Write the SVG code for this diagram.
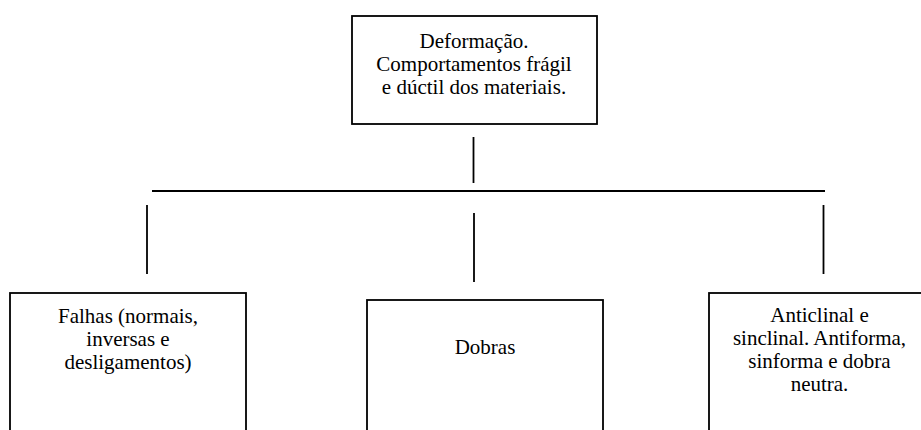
<svg xmlns="http://www.w3.org/2000/svg" width="921" height="430" viewBox="0 0 921 430">
<style>
.box{fill:#fff;stroke:#000;stroke-width:1.8}
.ln{stroke:#000;stroke-width:1.8;fill:none}
.t{font-family:'Liberation Serif','Times New Roman','DejaVu Serif',serif;font-size:21px;fill:#000;text-anchor:middle}
</style>
<rect width="921" height="430" fill="#fff"/>
<g id="connectors">
<line class="ln" x1="473.5" y1="137" x2="473.5" y2="183"/>
<line class="ln" x1="152" y1="191" x2="825" y2="191"/>
<line class="ln" x1="147" y1="205" x2="147" y2="274"/>
<line class="ln" x1="474" y1="213" x2="474" y2="282"/>
<line class="ln" x1="823.5" y1="205" x2="823.5" y2="274"/>
</g>
<g id="node-deformacao">
<rect class="box" x="352" y="16" width="245" height="108"/>
<text class="t" font-family="Liberation Serif, serif" x="474" y="48">Deformação.</text>
<text class="t" font-family="Liberation Serif, serif" x="474" y="71">Comportamentos frágil</text>
<text class="t" font-family="Liberation Serif, serif" x="474" y="94">e dúctil dos materiais.</text>
</g>
<g id="node-falhas">
<rect class="box" x="10" y="293" width="236" height="160"/>
<text class="t" x="128" y="323">Falhas (normais,</text>
<text class="t" x="128" y="346">inversas e</text>
<text class="t" x="128" y="369">desligamentos)</text>
</g>
<g id="node-dobras">
<rect class="box" x="367" y="300" width="236" height="160"/>
<text class="t" x="485" y="354">Dobras</text>
</g>
<g id="node-anticlinal">
<rect class="box" x="709" y="293" width="230" height="160"/>
<text class="t" x="819.5" y="322">Anticlinal e</text>
<text class="t" x="819.5" y="345">sinclinal. Antiforma,</text>
<text class="t" x="819.5" y="368">sinforma e dobra</text>
<text class="t" x="819.5" y="391">neutra.</text>
</g>
</svg>
